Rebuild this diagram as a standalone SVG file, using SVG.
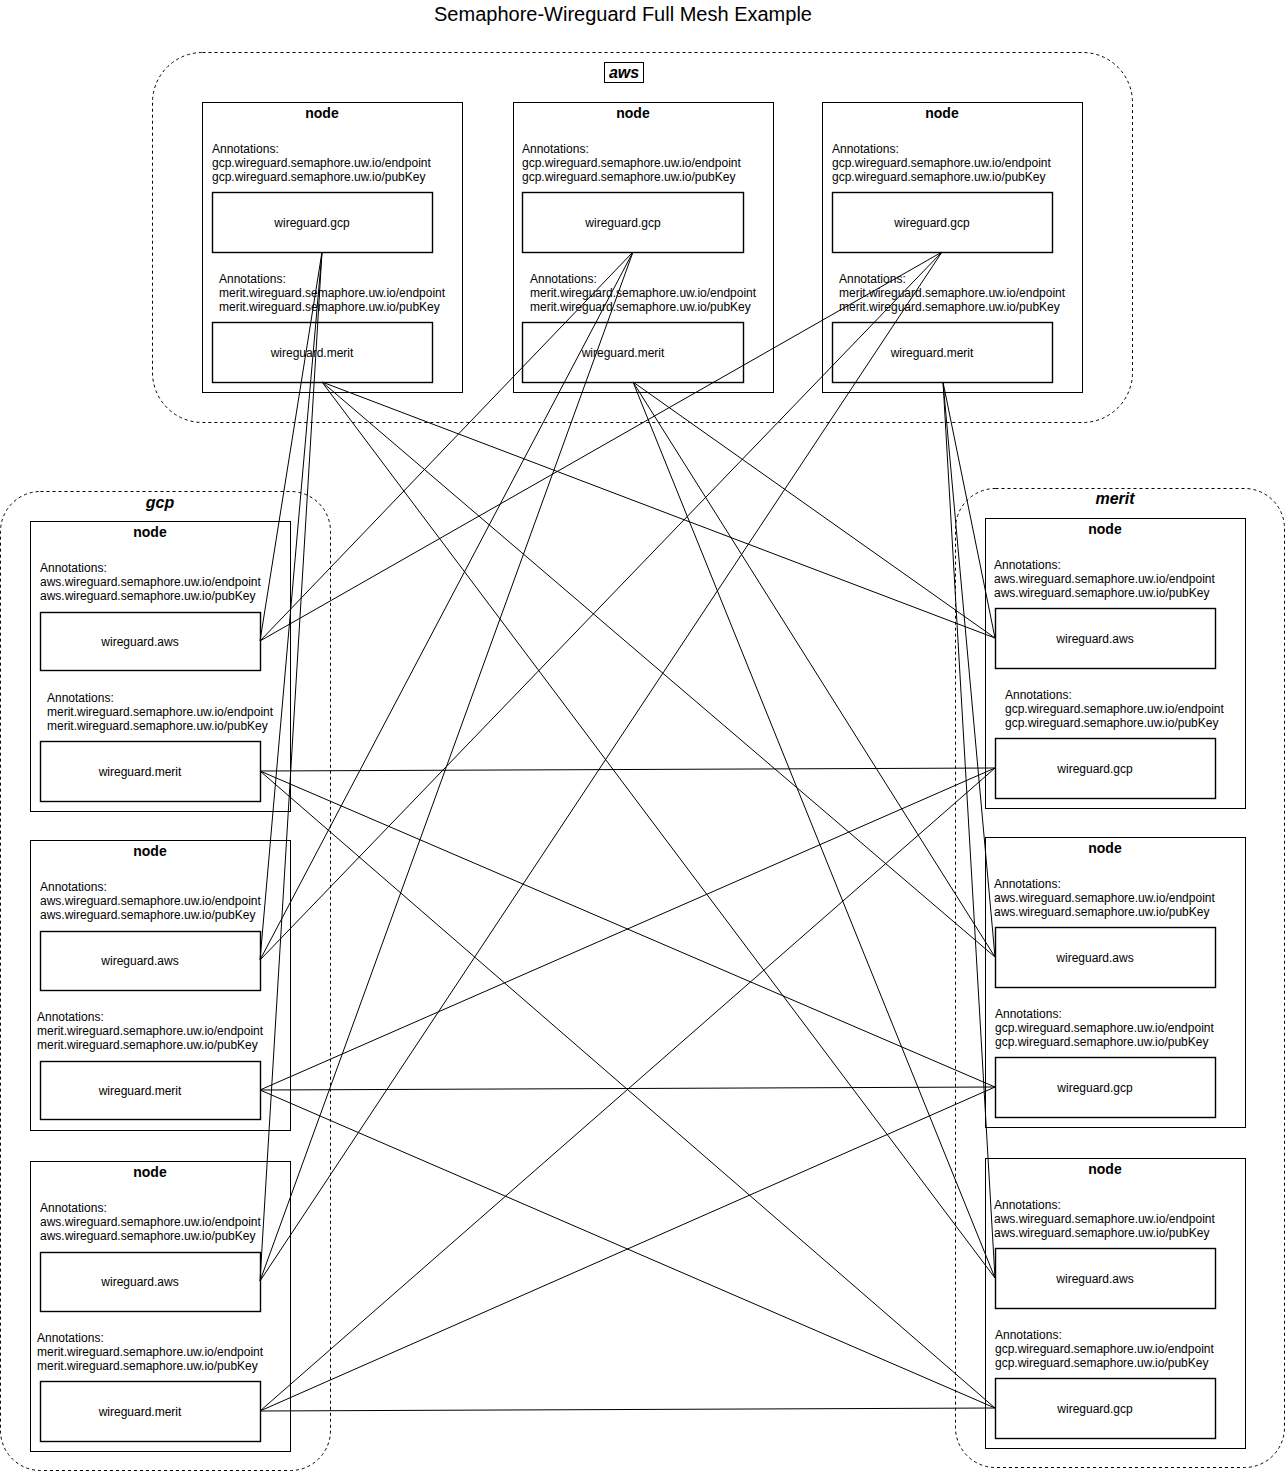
<svg xmlns="http://www.w3.org/2000/svg" width="1286" height="1472" viewBox="0 0 1286 1472">
<style>
text{font-family:"Liberation Sans",Arial,sans-serif;fill:#000}
.title{font-size:20px;text-anchor:middle}
.grp{fill:none;stroke:#000;stroke-width:1;stroke-dasharray:3 3}
.glabel{font-size:16px;font-weight:bold;font-style:italic;text-anchor:middle}
.node{fill:#fff;stroke:#000;stroke-width:1}
.nlabel{font-size:14px;font-weight:bold;text-anchor:middle}
.ann{font-size:12px}
.box{fill:#fff;stroke:#000;stroke-width:1.4}
.blabel{font-size:12px;text-anchor:middle}
.conn line{stroke:#000;stroke-width:1;fill:none}
</style>
<rect width="1286" height="1472" fill="#fff"/>
<text class="title" x="623" y="21">Semaphore-Wireguard Full Mesh Example</text>

<g id="group-aws">
<rect class="grp" x="152.5" y="52.5" width="980" height="370" rx="50" ry="50"/>
<rect x="604.5" y="62.5" width="39" height="20" fill="#fff" stroke="#000"/>
<text class="glabel" x="624" y="78">aws</text>
</g>
<g id="group-gcp">
<rect class="grp" x="0.5" y="491.5" width="330" height="979" rx="40" ry="40"/>
<text class="glabel" x="160" y="508">gcp</text>
</g>
<g id="group-merit">
<rect class="grp" x="955.5" y="488.5" width="329" height="979" rx="40" ry="40"/>
<text class="glabel" x="1115" y="504">merit</text>
</g>

<!-- AWS nodes -->
<g id="aws-node-1">
<rect class="node" x="202.5" y="102.5" width="260" height="290"/>
<text class="nlabel" x="322" y="118">node</text>
<text class="ann" x="212" y="153">Annotations:</text>
<text class="ann" x="212" y="167">gcp.wireguard.semaphore.uw.io/endpoint</text>
<text class="ann" x="212" y="181">gcp.wireguard.semaphore.uw.io/pubKey</text>
<rect class="box" x="212.5" y="192.5" width="220" height="60"/>
<text class="blabel" x="312" y="227">wireguard.gcp</text>
<text class="ann" x="219" y="283">Annotations:</text>
<text class="ann" x="219" y="297">merit.wireguard.semaphore.uw.io/endpoint</text>
<text class="ann" x="219" y="311">merit.wireguard.semaphore.uw.io/pubKey</text>
<rect class="box" x="212.5" y="322.5" width="220" height="60"/>
<text class="blabel" x="312" y="357">wireguard.merit</text>
</g>
<g id="aws-node-2">
<rect class="node" x="513.5" y="102.5" width="260" height="290"/>
<text class="nlabel" x="633" y="118">node</text>
<text class="ann" x="522" y="153">Annotations:</text>
<text class="ann" x="522" y="167">gcp.wireguard.semaphore.uw.io/endpoint</text>
<text class="ann" x="522" y="181">gcp.wireguard.semaphore.uw.io/pubKey</text>
<rect class="box" x="522.5" y="192.5" width="221" height="60"/>
<text class="blabel" x="623" y="227">wireguard.gcp</text>
<text class="ann" x="530" y="283">Annotations:</text>
<text class="ann" x="530" y="297">merit.wireguard.semaphore.uw.io/endpoint</text>
<text class="ann" x="530" y="311">merit.wireguard.semaphore.uw.io/pubKey</text>
<rect class="box" x="522.5" y="322.5" width="221" height="60"/>
<text class="blabel" x="623" y="357">wireguard.merit</text>
</g>
<g id="aws-node-3">
<rect class="node" x="822.5" y="102.5" width="260" height="290"/>
<text class="nlabel" x="942" y="118">node</text>
<text class="ann" x="832" y="153">Annotations:</text>
<text class="ann" x="832" y="167">gcp.wireguard.semaphore.uw.io/endpoint</text>
<text class="ann" x="832" y="181">gcp.wireguard.semaphore.uw.io/pubKey</text>
<rect class="box" x="832.5" y="192.5" width="220" height="60"/>
<text class="blabel" x="932" y="227">wireguard.gcp</text>
<text class="ann" x="839" y="283">Annotations:</text>
<text class="ann" x="839" y="297">merit.wireguard.semaphore.uw.io/endpoint</text>
<text class="ann" x="839" y="311">merit.wireguard.semaphore.uw.io/pubKey</text>
<rect class="box" x="832.5" y="322.5" width="220" height="60"/>
<text class="blabel" x="932" y="357">wireguard.merit</text>
</g>

<!-- GCP nodes -->
<g id="gcp-node-1">
<rect class="node" x="30.5" y="521.5" width="260" height="290"/>
<text class="nlabel" x="150" y="537">node</text>
<text class="ann" x="40" y="572">Annotations:</text>
<text class="ann" x="40" y="586">aws.wireguard.semaphore.uw.io/endpoint</text>
<text class="ann" x="40" y="600">aws.wireguard.semaphore.uw.io/pubKey</text>
<rect class="box" x="40.5" y="612.5" width="220" height="58"/>
<text class="blabel" x="140" y="646">wireguard.aws</text>
<text class="ann" x="47" y="702">Annotations:</text>
<text class="ann" x="47" y="716">merit.wireguard.semaphore.uw.io/endpoint</text>
<text class="ann" x="47" y="730">merit.wireguard.semaphore.uw.io/pubKey</text>
<rect class="box" x="40.5" y="741.5" width="220" height="60"/>
<text class="blabel" x="140" y="776">wireguard.merit</text>
</g>
<g id="gcp-node-2">
<rect class="node" x="30.5" y="840.5" width="260" height="290"/>
<text class="nlabel" x="150" y="856">node</text>
<text class="ann" x="40" y="891">Annotations:</text>
<text class="ann" x="40" y="905">aws.wireguard.semaphore.uw.io/endpoint</text>
<text class="ann" x="40" y="919">aws.wireguard.semaphore.uw.io/pubKey</text>
<rect class="box" x="40.5" y="931.5" width="220" height="59"/>
<text class="blabel" x="140" y="965">wireguard.aws</text>
<text class="ann" x="37" y="1021">Annotations:</text>
<text class="ann" x="37" y="1035">merit.wireguard.semaphore.uw.io/endpoint</text>
<text class="ann" x="37" y="1049">merit.wireguard.semaphore.uw.io/pubKey</text>
<rect class="box" x="40.5" y="1061.5" width="220" height="58"/>
<text class="blabel" x="140" y="1095">wireguard.merit</text>
</g>
<g id="gcp-node-3">
<rect class="node" x="30.5" y="1161.5" width="260" height="290"/>
<text class="nlabel" x="150" y="1177">node</text>
<text class="ann" x="40" y="1212">Annotations:</text>
<text class="ann" x="40" y="1226">aws.wireguard.semaphore.uw.io/endpoint</text>
<text class="ann" x="40" y="1240">aws.wireguard.semaphore.uw.io/pubKey</text>
<rect class="box" x="40.5" y="1252.5" width="220" height="59"/>
<text class="blabel" x="140" y="1286">wireguard.aws</text>
<text class="ann" x="37" y="1342">Annotations:</text>
<text class="ann" x="37" y="1356">merit.wireguard.semaphore.uw.io/endpoint</text>
<text class="ann" x="37" y="1370">merit.wireguard.semaphore.uw.io/pubKey</text>
<rect class="box" x="40.5" y="1381.5" width="220" height="60"/>
<text class="blabel" x="140" y="1416">wireguard.merit</text>
</g>

<!-- Merit nodes -->
<g id="merit-node-1">
<rect class="node" x="985.5" y="518.5" width="260" height="290"/>
<text class="nlabel" x="1105" y="534">node</text>
<text class="ann" x="994" y="569">Annotations:</text>
<text class="ann" x="994" y="583">aws.wireguard.semaphore.uw.io/endpoint</text>
<text class="ann" x="994" y="597">aws.wireguard.semaphore.uw.io/pubKey</text>
<rect class="box" x="995.5" y="608.5" width="220" height="60"/>
<text class="blabel" x="1095" y="643">wireguard.aws</text>
<text class="ann" x="1005" y="699">Annotations:</text>
<text class="ann" x="1005" y="713">gcp.wireguard.semaphore.uw.io/endpoint</text>
<text class="ann" x="1005" y="727">gcp.wireguard.semaphore.uw.io/pubKey</text>
<rect class="box" x="995.5" y="738.5" width="220" height="60"/>
<text class="blabel" x="1095" y="773">wireguard.gcp</text>
</g>
<g id="merit-node-2">
<rect class="node" x="985.5" y="837.5" width="260" height="290"/>
<text class="nlabel" x="1105" y="853">node</text>
<text class="ann" x="994" y="888">Annotations:</text>
<text class="ann" x="994" y="902">aws.wireguard.semaphore.uw.io/endpoint</text>
<text class="ann" x="994" y="916">aws.wireguard.semaphore.uw.io/pubKey</text>
<rect class="box" x="995.5" y="927.5" width="220" height="60"/>
<text class="blabel" x="1095" y="962">wireguard.aws</text>
<text class="ann" x="995" y="1018">Annotations:</text>
<text class="ann" x="995" y="1032">gcp.wireguard.semaphore.uw.io/endpoint</text>
<text class="ann" x="995" y="1046">gcp.wireguard.semaphore.uw.io/pubKey</text>
<rect class="box" x="995.5" y="1057.5" width="220" height="60"/>
<text class="blabel" x="1095" y="1092">wireguard.gcp</text>
</g>
<g id="merit-node-3">
<rect class="node" x="985.5" y="1158.5" width="260" height="290"/>
<text class="nlabel" x="1105" y="1174">node</text>
<text class="ann" x="994" y="1209">Annotations:</text>
<text class="ann" x="994" y="1223">aws.wireguard.semaphore.uw.io/endpoint</text>
<text class="ann" x="994" y="1237">aws.wireguard.semaphore.uw.io/pubKey</text>
<rect class="box" x="995.5" y="1248.5" width="220" height="60"/>
<text class="blabel" x="1095" y="1283">wireguard.aws</text>
<text class="ann" x="995" y="1339">Annotations:</text>
<text class="ann" x="995" y="1353">gcp.wireguard.semaphore.uw.io/endpoint</text>
<text class="ann" x="995" y="1367">gcp.wireguard.semaphore.uw.io/pubKey</text>
<rect class="box" x="995.5" y="1378.5" width="220" height="60"/>
<text class="blabel" x="1095" y="1413">wireguard.gcp</text>
</g>

<g id="connectors" class="conn">
<!-- aws gcp-boxes to gcp aws-boxes -->
<line x1="322" y1="252" x2="260" y2="641"/>
<line x1="322" y1="252" x2="260" y2="960"/>
<line x1="322" y1="252" x2="260" y2="1281"/>
<line x1="633" y1="252" x2="260" y2="641"/>
<line x1="633" y1="252" x2="260" y2="960"/>
<line x1="633" y1="252" x2="260" y2="1281"/>
<line x1="942" y1="252" x2="260" y2="641"/>
<line x1="942" y1="252" x2="260" y2="960"/>
<line x1="942" y1="252" x2="260" y2="1281"/>
<!-- aws merit-boxes to merit aws-boxes -->
<line x1="322" y1="382" x2="995" y2="638"/>
<line x1="322" y1="382" x2="995" y2="957"/>
<line x1="322" y1="382" x2="995" y2="1278"/>
<line x1="633" y1="382" x2="995" y2="638"/>
<line x1="633" y1="382" x2="995" y2="957"/>
<line x1="633" y1="382" x2="995" y2="1278"/>
<line x1="943" y1="382" x2="995" y2="638"/>
<line x1="943" y1="382" x2="995" y2="957"/>
<line x1="943" y1="382" x2="995" y2="1278"/>
<!-- gcp merit-boxes to merit gcp-boxes -->
<line x1="260" y1="771" x2="995" y2="768"/>
<line x1="260" y1="771" x2="995" y2="1087"/>
<line x1="260" y1="771" x2="995" y2="1408"/>
<line x1="260" y1="1090" x2="995" y2="768"/>
<line x1="260" y1="1090" x2="995" y2="1087"/>
<line x1="260" y1="1090" x2="995" y2="1408"/>
<line x1="260" y1="1411" x2="995" y2="768"/>
<line x1="260" y1="1411" x2="995" y2="1087"/>
<line x1="260" y1="1411" x2="995" y2="1408"/>
</g>
</svg>
